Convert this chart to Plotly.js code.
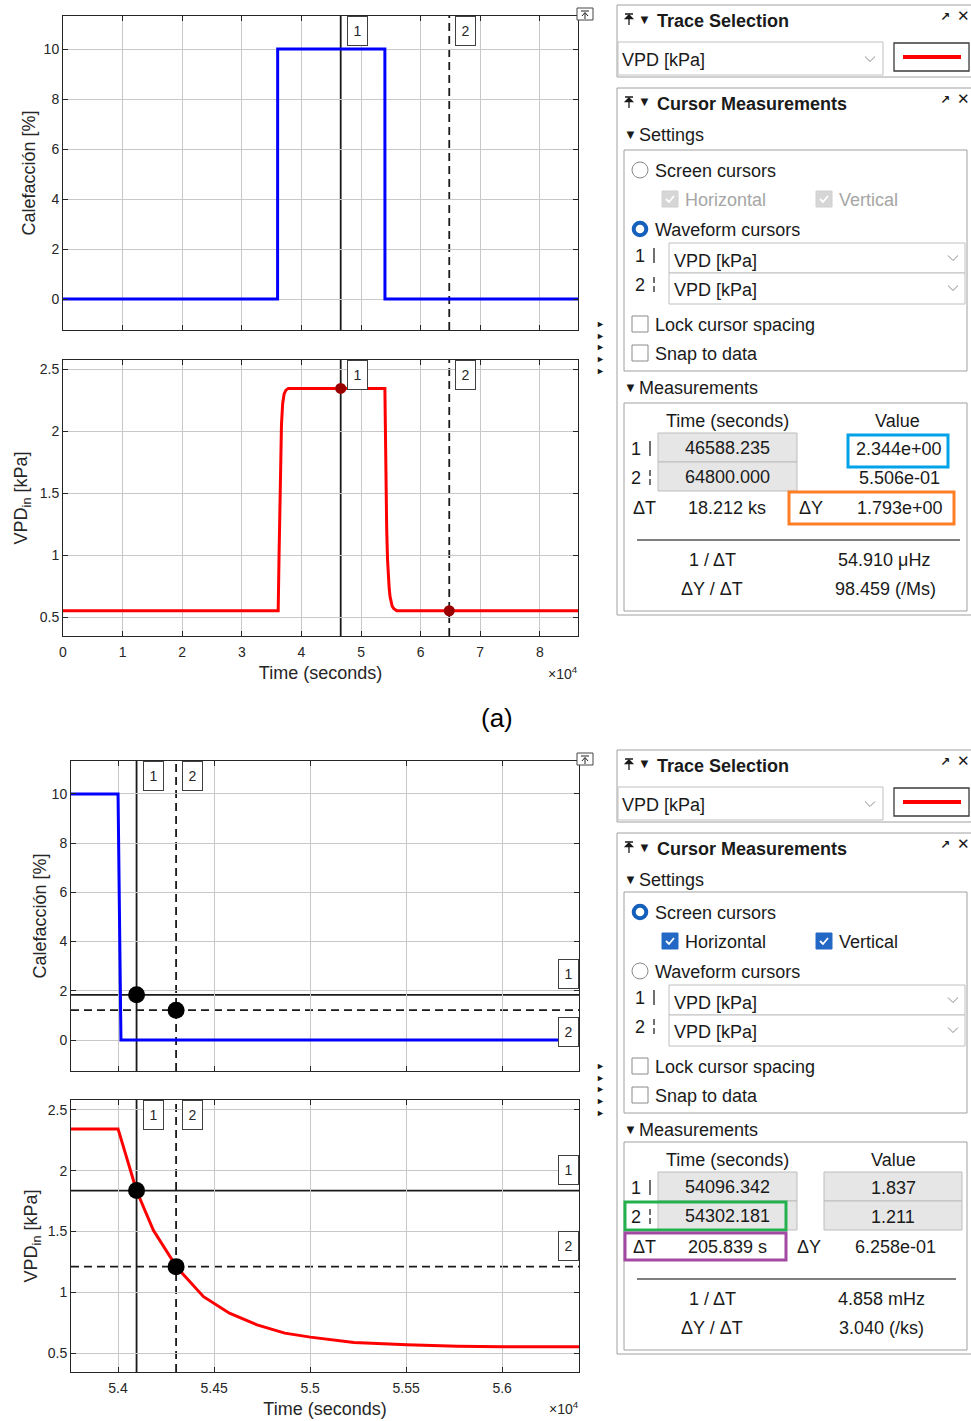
<!DOCTYPE html>
<html><head><meta charset="utf-8">
<script src="https://cdn.plot.ly/plotly-3.0.1.min.js"></script>
<style>html,body{margin:0;padding:0;background:#fff;}#chart{width:971px;height:1421px;}</style>
</head><body><div id="chart"></div>
<script>
// ---------------- data ----------------
const heatTime = [0, 36000, 36015, 54000, 54015, 86400];
const heatPercent = [0, 0, 10, 10, 0, 0];
const vpdTime = [0, 36100, 36250, 36450, 36650, 36850, 37100, 37400, 37800, 54000, 54049, 54096, 54184, 54306, 54445, 54580, 54724, 54868, 55001, 55228, 55503, 55768, 56002, 56410, 64800, 86400];
const vpdKPa = [0.55, 0.55, 1.0, 1.6, 2.05, 2.22, 2.3, 2.33, 2.344, 2.344, 2.085, 1.837, 1.51, 1.205, 0.964, 0.828, 0.732, 0.664, 0.631, 0.587, 0.568, 0.555, 0.551, 0.551, 0.5506, 0.55];
const cursorTimeA = [46588.235, 64800.000];
const cursorVpdA = [2.344, 0.5506];
const cursorTimeB = [54096.342, 54302.181];
const cursorVpdB = [1.837, 1.211];
const dayTicks = [0, 10000, 20000, 30000, 40000, 50000, 60000, 70000, 80000];
const dayTickLabels = ['0', '1', '2', '3', '4', '5', '6', '7', '8'];
const zoomTicks = [54000, 54500, 55000, 55500, 56000];
const zoomTickLabels = ['5.4', '5.45', '5.5', '5.55', '5.6'];
const heatTicks = [0, 2, 4, 6, 8, 10];
const vpdTicks = [0.5, 1, 1.5, 2, 2.5];
const measTimeA = ['46588.235', '64800.000'];
const measValA = ['2.344e+00', '5.506e-01'];
const measDeltaA = ['18.212 ks', '1.793e+00', '54.910 μHz', '98.459 (/Ms)'];
const measTimeB = ['54096.342', '54302.181'];
const measValB = ['1.837', '1.211'];
const measDeltaB = ['205.839 s', '6.258e-01', '4.858 mHz', '3.040 (/ks)'];

// ---------------- helpers ----------------
const W = 971, H = 1421;
const X = p => p / W, Y = p => 1 - p / H;
const FONT = 'Liberation Sans, Arial, Helvetica, sans-serif';
const SYM = 'DejaVu Sans, sans-serif';
const shapes = [], ann = [];
function rect(x0, y0, x1, y1, lc, fill, lw) {
  shapes.push({type: 'rect', xref: 'paper', yref: 'paper', x0: X(x0), x1: X(x1), y0: Y(y1), y1: Y(y0),
    line: {color: lc || 'rgba(0,0,0,0)', width: lw === undefined ? 1 : lw}, fillcolor: fill || 'rgba(0,0,0,0)', layer: 'above'});
}
function seg(x0, y0, x1, y1, lc, lw) {
  shapes.push({type: 'line', xref: 'paper', yref: 'paper', x0: X(x0), x1: X(x1), y0: Y(y0), y1: Y(y1), line: {color: lc, width: lw || 1}, layer: 'above'});
}
function path(pts, lc, lw, fill) {
  const d = pts.map((p, i) => (i ? 'L' : 'M') + X(p[0]).toFixed(6) + ',' + Y(p[1]).toFixed(6)).join(' ') + (fill ? ' Z' : '');
  shapes.push({type: 'path', xref: 'paper', yref: 'paper', path: d, line: {color: lc, width: lw || 1}, fillcolor: fill || 'rgba(0,0,0,0)', layer: 'above'});
}
function circ(cx, cy, r, lc, lw, fill) {
  shapes.push({type: 'circle', xref: 'paper', yref: 'paper', x0: X(cx - r), x1: X(cx + r), y0: Y(cy + r), y1: Y(cy - r), line: {color: lc, width: lw}, fillcolor: fill, layer: 'above'});
}
function txt(s, px, py, o) {
  o = o || {};
  ann.push({text: s, x: X(px), y: Y(py), xref: 'paper', yref: 'paper', xanchor: o.a || 'left', yanchor: 'middle', showarrow: false, borderpad: 0,
    font: {family: o.f || FONT, size: o.s || 18, color: o.c || '#1a1a1a'}});
}
function pinIcon(x, y) {
  seg(x - 4, y - 6, x + 4, y - 6, '#1a1a1a', 1.5);
  path([[x - 3.5, y - 1.5], [x, y - 5], [x + 3.5, y - 1.5]], '#1a1a1a', 1.3, '#1a1a1a');
  seg(x, y - 3, x, y + 5, '#1a1a1a', 1.3);
}
function chevron(x, y) { path([[x - 5, y - 2.5], [x, y + 2.5], [x + 5, y - 2.5]], '#8a8a8a', 1); }
function checkbox(x0, yc, state) {
  if (state === 'gray') { rect(x0, yc - 8, x0 + 16, yc + 8, '#d0d0d0', '#d6d6d6', 1); }
  else if (state === 'blue') { rect(x0, yc - 8, x0 + 16, yc + 8, '#2368c4', '#2368c4', 1); }
  else { rect(x0, yc - 8, x0 + 16, yc + 8, '#8a8a8a', '#ffffff', 1); return; }
  path([[x0 + 4, yc], [x0 + 7, yc + 3], [x0 + 12, yc - 3]], '#ffffff', 1.8);
}
function radio(y, on) {
  if (on) circ(640, y, 6.3, '#1560bd', 4, '#ffffff');
  else circ(640, y, 8, '#8a8a8a', 1, '#ffffff');
}
function cursorMark(x, y, dashed) {
  if (!dashed) seg(x, y - 8, x, y + 7, '#333333', 1.4);
  else { seg(x, y - 8, x, y - 2, '#333333', 1.4); seg(x, y + 1, x, y + 7, '#333333', 1.4); }
}

// ---------------- side panels ----------------
function panel(g1, g2, g3, isB) {
  const times = isB ? measTimeB : measTimeA, vals = isB ? measValB : measValA, d = isB ? measDeltaB : measDeltaA;
  rect(617, 5 + g1, 972, 77 + g1, '#a0a0a0', null, 1);
  pinIcon(629, 20 + g1);
  txt('▼', 644, 19 + g1, {a: 'center', s: 13});
  txt('<b>Trace Selection</b>', 656, 21 + g1);
  txt('<b>↗</b>', 945, 17 + g1, {a: 'center', s: 12, f: SYM});
  txt('<b>✕</b>', 963, 16 + g1, {a: 'center', s: 15, f: SYM});
  rect(618, 42 + g1, 883, 75 + g1, '#c0c0c0', '#ffffff', 1);
  txt('VPD [kPa]', 621, 60 + g1);
  chevron(870, 59 + g1);
  rect(894, 43 + g1, 969, 71 + g1, '#3a3a3a', '#ffffff', 1.3);
  seg(903, 57 + g1, 961, 57 + g1, '#ff0000', 4);
  rect(617, 88 + g1, 972, 615 + g3, '#a0a0a0', null, 1);
  pinIcon(629, 103 + g1);
  txt('▼', 644, 102 + g1, {a: 'center', s: 13});
  txt('<b>Cursor Measurements</b>', 656, 104 + g1);
  txt('<b>↗</b>', 945, 100 + g1, {a: 'center', s: 12, f: SYM});
  txt('<b>✕</b>', 963, 99 + g1, {a: 'center', s: 15, f: SYM});
  txt('▼', 630, 134 + g1, {a: 'center', s: 13});
  txt('Settings', 638, 135 + g1);
  rect(624, 150 + g2, 967, 371 + g2, '#a0a0a0', null, 1);
  radio(170 + g2, isB);
  txt('Screen cursors', 654, 171 + g2);
  checkbox(662, 199 + g2, isB ? 'blue' : 'gray');
  txt('Horizontal', 684, 200 + g2, {c: isB ? '#1a1a1a' : '#a6a6a6'});
  checkbox(816, 199 + g2, isB ? 'blue' : 'gray');
  txt('Vertical', 838, 200 + g2, {c: isB ? '#1a1a1a' : '#a6a6a6'});
  radio(229 + g2, !isB);
  txt('Waveform cursors', 654, 230 + g2);
  txt('1', 640, 256 + g2, {a: 'center'});
  cursorMark(654, 256 + g2, false);
  txt('2', 640, 285 + g2, {a: 'center'});
  cursorMark(654, 285 + g2, true);
  rect(669, 243 + g2, 965, 273 + g2, '#c0c0c0', '#ffffff', 1);
  rect(669, 273 + g2, 965, 304 + g2, '#c0c0c0', '#ffffff', 1);
  txt('VPD [kPa]', 673, 261 + g2);
  txt('VPD [kPa]', 673, 290 + g2);
  chevron(953, 258 + g2);
  chevron(953, 288 + g2);
  checkbox(632, 324 + g2, 'none');
  txt('Lock cursor spacing', 654, 325 + g2);
  checkbox(632, 353 + g2, 'none');
  txt('Snap to data', 654, 354 + g2);
  txt('▼', 630, 387 + g2, {a: 'center', s: 13});
  txt('Measurements', 638, 388 + g2);
  rect(624, 403 + g3, 967, 611 + g3, '#a0a0a0', null, 1);
  txt('Time (seconds)', 727, 421 + g3, {a: 'center'});
  txt('Value', isB ? 893 : 897, 421 + g3, {a: 'center'});
  rect(658, 433 + g3, 797, 462 + g3, '#bdbdbd', '#e6e6e6', 1);
  rect(658, 462 + g3, 797, 491 + g3, '#bdbdbd', '#e6e6e6', 1);
  if (isB) {
    rect(824, 433 + g3, 962, 462 + g3, '#bdbdbd', '#e6e6e6', 1);
    rect(824, 462 + g3, 962, 491 + g3, '#bdbdbd', '#e6e6e6', 1);
  }
  txt('1', 636, 449 + g3, {a: 'center'});
  cursorMark(650, 449 + g3, false);
  txt('2', 636, 478 + g3, {a: 'center'});
  cursorMark(650, 478 + g3, true);
  txt(times[0], 727, 448 + g3, {a: 'center'});
  txt(times[1], 727, 477 + g3, {a: 'center'});
  const vc = isB ? 893 : 899;
  txt(vals[0], vc, 449 + g3, {a: 'center'});
  txt(vals[1], vc, 478 + g3, {a: 'center'});
  txt('ΔT', 644, 508 + g3, {a: 'center'});
  txt(d[0], 727, 508 + g3, {a: 'center'});
  txt('ΔY', isB ? 809 : 811, 508 + g3, {a: 'center'});
  txt(d[1], isB ? 895 : 900, 508 + g3, {a: 'center'});
  seg(637, 540 + g3, isB ? 956 : 960, 540 + g3, '#555555', 1.3);
  txt('1 / ΔT', 712, 560 + g3, {a: 'center'});
  txt(d[2], isB ? 881 : 884, 560 + g3, {a: 'center'});
  txt('ΔY / ΔT', 712, 589 + g3, {a: 'center'});
  txt(d[3], isB ? 881 : 885, 589 + g3, {a: 'center'});
  if (!isB) {
    rect(848, 435 + g3, 948, 467 + g3, '#00a2e8', null, 3);
    rect(789, 492 + g3, 954, 524 + g3, '#ff7f27', null, 3);
  } else {
    rect(625, 463 + g3, 786, 491 + g3, '#22b14c', null, 3);
    rect(625, 494 + g3, 786, 521 + g3, '#a349a4', null, 3);
  }
}
panel(0, 0, 0, false);
panel(745, 742, 739, true);

function undockIcon(y) {
  rect(577, y, 593, y + 12, '#444444', '#ffffff', 1);
  seg(581, y + 3, 589, y + 3, '#222222', 1);
  path([[582, y + 8], [585, y + 4.5], [588, y + 8]], '#222222', 1);
  seg(585, y + 5, 585, y + 11, '#222222', 1);
}
undockIcon(8);
undockIcon(753);
txt('►<br>►<br>►<br>►<br>►', 600, 347, {a: 'center', s: 9, c: '#1a1a1a'});
txt('►<br>►<br>►<br>►<br>►', 600, 1089, {a: 'center', s: 9, c: '#1a1a1a'});
txt('×10<sup>4</sup>', 579, 673, {a: 'right', s: 14, c: '#262626'});
txt('×10<sup>4</sup>', 580, 1408, {a: 'right', s: 14, c: '#262626'});
txt('(a)', 497, 718, {a: 'center', s: 26, c: '#000000'});

// ---------------- cursors ----------------
function vCursor(t, xr, yr, dashed) {
  shapes.push({type: 'line', xref: xr, yref: yr + ' domain', x0: t, x1: t, y0: 0, y1: 1, layer: 'below',
    line: {color: '#1a1a1a', width: 1.8, dash: dashed ? '8px,5px' : 'solid'}});
}
function hCursor(v, xr, yr, dashed) {
  shapes.push({type: 'line', xref: xr + ' domain', yref: yr, x0: 0, x1: 1, y0: v, y1: v, layer: 'below',
    line: {color: '#1a1a1a', width: 1.8, dash: dashed ? '8px,5px' : 'solid'}});
}
const labelStyle = {showarrow: false, bordercolor: '#404040', borderwidth: 1, borderpad: 2, bgcolor: '#ffffff', width: 15, height: 24,
  font: {family: FONT, size: 14, color: '#262626'}};
function vLabel(t, xr, yr, n) {
  ann.push(Object.assign({}, labelStyle, {x: t, xref: xr, y: 1, yref: yr + ' domain', xanchor: 'left', yanchor: 'top', xshift: 6, text: n}));
}
function hLabel(v, xr, yr, n, below) {
  ann.push(Object.assign({}, labelStyle, {x: 1, xref: xr + ' domain', y: v, yref: yr, xanchor: 'right', yanchor: below ? 'top' : 'bottom', yshift: below ? -7 : 6, text: n}));
}
[['x', 'y'], ['x2', 'y2']].forEach(([xr, yr]) => {
  vCursor(cursorTimeA[0], xr, yr, false); vCursor(cursorTimeA[1], xr, yr, true);
  vLabel(cursorTimeA[0], xr, yr, '1'); vLabel(cursorTimeA[1], xr, yr, '2');
});
[['x3', 'y3'], ['x4', 'y4']].forEach(([xr, yr]) => {
  vCursor(cursorTimeB[0], xr, yr, false); vCursor(cursorTimeB[1], xr, yr, true);
  hCursor(cursorVpdB[0], xr, yr, false); hCursor(cursorVpdB[1], xr, yr, true);
  vLabel(cursorTimeB[0], xr, yr, '1'); vLabel(cursorTimeB[1], xr, yr, '2');
  hLabel(cursorVpdB[0], xr, yr, '1', false); hLabel(cursorVpdB[1], xr, yr, '2', yr === 'y3');
});

// ---------------- traces ----------------
const traces = [
  {x: heatTime, y: heatPercent, xaxis: 'x', yaxis: 'y', mode: 'lines', line: {color: '#0000ff', width: 3}},
  {x: vpdTime, y: vpdKPa, xaxis: 'x2', yaxis: 'y2', mode: 'lines', line: {color: '#ff0000', width: 3}},
  {x: cursorTimeA, y: cursorVpdA, xaxis: 'x2', yaxis: 'y2', mode: 'markers', marker: {color: '#9b0000', size: 11}},
  {x: heatTime, y: heatPercent, xaxis: 'x3', yaxis: 'y3', mode: 'lines', line: {color: '#0000ff', width: 3}},
  {x: cursorTimeB, y: cursorVpdB, xaxis: 'x3', yaxis: 'y3', mode: 'markers', marker: {color: '#000000', size: 17}},
  {x: vpdTime, y: vpdKPa, xaxis: 'x4', yaxis: 'y4', mode: 'lines', line: {color: '#ff0000', width: 3}},
  {x: cursorTimeB, y: cursorVpdB, xaxis: 'x4', yaxis: 'y4', mode: 'markers', marker: {color: '#000000', size: 17}}
];

function ax(extra) {
  return Object.assign({showline: true, linecolor: '#262626', linewidth: 1, mirror: 'ticks', ticks: 'inside', ticklen: 5,
    tickcolor: '#262626', tickwidth: 1, showgrid: true, gridcolor: '#c8c8c8', gridwidth: 1, zeroline: false,
    tickfont: {family: FONT, size: 14, color: '#262626'}, fixedrange: true, tickmode: 'array'}, extra);
}
const titleFont = {family: FONT, size: 18, color: '#262626'};
const layout = {
  width: W, height: H, margin: {l: 0, r: 0, t: 0, b: 0}, paper_bgcolor: '#ffffff', plot_bgcolor: 'rgba(0,0,0,0)', showlegend: false,
  xaxis: ax({domain: [X(63), X(578)], anchor: 'y', range: [0, 86400], tickvals: dayTicks, ticktext: dayTickLabels, showticklabels: false}),
  yaxis: ax({domain: [Y(330), Y(16)], anchor: 'x', range: [-1.24, 11.32], tickvals: heatTicks,
    title: {text: 'Calefacción [%]', font: titleFont, standoff: 3}}),
  xaxis2: ax({domain: [X(63), X(578)], anchor: 'y2', range: [0, 86400], tickvals: dayTicks, ticktext: dayTickLabels, ticklabelstandoff: 3,
    title: {text: 'Time (seconds)', font: titleFont, standoff: 7}}),
  yaxis2: ax({domain: [Y(636), Y(360)], anchor: 'x2', range: [0.347, 2.573], tickvals: vpdTicks,
    title: {text: 'VPD<sub>in</sub> [kPa]', font: titleFont, standoff: 7}}),
  xaxis3: ax({domain: [X(71), X(579)], anchor: 'y3', range: [53755, 56400], tickvals: zoomTicks, ticktext: zoomTickLabels, showticklabels: false}),
  yaxis3: ax({domain: [Y(1071), Y(761)], anchor: 'x3', range: [-1.26, 11.34], tickvals: heatTicks,
    title: {text: 'Calefacción [%]', font: titleFont, standoff: 0}}),
  xaxis4: ax({domain: [X(71), X(579)], anchor: 'y4', range: [53755, 56400], tickvals: zoomTicks, ticktext: zoomTickLabels, ticklabelstandoff: 3,
    title: {text: 'Time (seconds)', font: titleFont, standoff: 7}}),
  yaxis4: ax({domain: [Y(1372), Y(1100)], anchor: 'x4', range: [0.344, 2.582], tickvals: vpdTicks,
    title: {text: 'VPD<sub>in</sub> [kPa]', font: titleFont, standoff: 5}}),
  shapes: shapes,
  annotations: ann
};
Plotly.newPlot('chart', traces, layout, {staticPlot: true, displayModeBar: false});
</script>
</body></html>
